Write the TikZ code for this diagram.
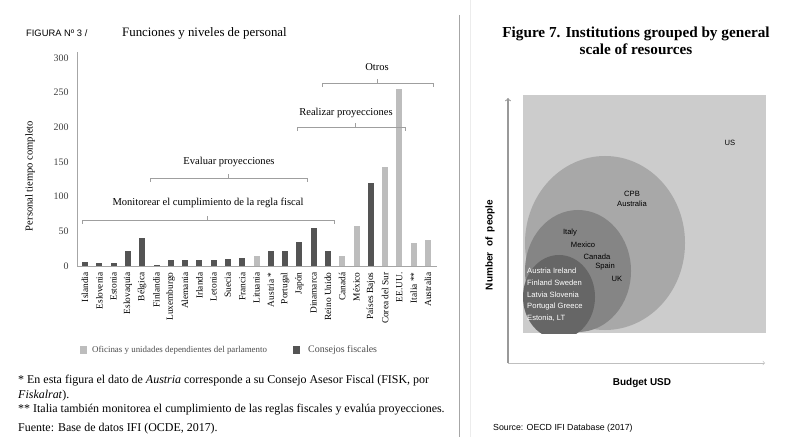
\documentclass[tikz,border=0pt]{standalone}
\usepackage{fontspec}
\setmainfont{Liberation Serif}
\setsansfont{Liberation Sans}
\usetikzlibrary{positioning}

\definecolor{barDark}{gray}{0.33}
\definecolor{barLight}{gray}{0.74}
\definecolor{boxFill}{gray}{0.80}
\definecolor{ringOne}{gray}{0.66}
\definecolor{ringTwo}{gray}{0.52}
\definecolor{ringThree}{gray}{0.40}

\tikzset{
  axisline/.style={gray!70, line width=0.8pt},
  darkbar/.style={fill=barDark},
  lightbar/.style={fill=barLight},
  ticklabel/.style={anchor=east, font=\fontsize{8.5}{9}\selectfont, text=black!75, inner sep=1pt},
  country/.style={rotate=90, anchor=east, font=\fontsize{8}{9}\selectfont, inner sep=1pt},
  brace/.style={gray!75, line width=0.6pt},
  bracelabel/.style={font=\fontsize{9}{10}\selectfont, inner sep=1pt},
  legendtext/.style={anchor=west, font=\fontsize{7.6}{9}\selectfont, text=black!70, inner sep=0pt},
  footnote/.style={anchor=west, font=\fontsize{10.2}{11}\selectfont, inner sep=0pt},
  circlabel/.style={font=\sffamily\fontsize{6.5}{7}\selectfont, inner sep=0pt},
}

\begin{document}
\begin{tikzpicture}[x=0.3mm, y=0.3mm]
  \useasboundingbox (0,0) rectangle (785,437);

  % left figure: headings
  \node[anchor=west, font=\sffamily\fontsize{8}{9}\selectfont] (figlabel) at (22,404) {FIGURA Nº 3 /};
  \node[anchor=west, font=\fontsize{11}{12}\selectfont] (charttitle) at (118,404) {Funciones y niveles de personal};
  \node[rotate=90, font=\fontsize{9}{10}\selectfont] (ytitle) at (30,261) {Personal tiempo completo};

  % axes
  \coordinate (yorigin) at (77,171);
  \coordinate (ytop) at (77,385);
  \coordinate (xright) at (437,171);
  \draw[axisline] (ytop) -- (yorigin) -- (xright);

  \begin{scope}[yshift=51.3mm, y=0.208mm]
    \node[ticklabel] (t0)   at (70,0)   {0};
    \node[ticklabel] (t50)  at (70,50)  {50};
    \node[ticklabel] (t100) at (70,100) {100};
    \node[ticklabel] (t150) at (70,150) {150};
    \node[ticklabel] (t200) at (70,200) {200};
    \node[ticklabel] (t250) at (70,250) {250};
    \node[ticklabel] (t300) at (70,300) {300};

    % bars
    \fill[darkbar]  (82,0)    rectangle +(6,6);
    \fill[darkbar]  (96.3,0)  rectangle +(6,5);
    \fill[darkbar]  (110.6,0) rectangle +(6,5);
    \fill[darkbar]  (124.9,0) rectangle +(6,21);
    \fill[darkbar]  (139.2,0) rectangle +(6,41);
    \fill[darkbar]  (153.5,0) rectangle +(6,2);
    \fill[darkbar]  (167.7,0) rectangle +(6,8);
    \fill[darkbar]  (182,0)   rectangle +(6,8);
    \fill[darkbar]  (196.3,0) rectangle +(6,8);
    \fill[darkbar]  (210.6,0) rectangle +(6,8);
    \fill[darkbar]  (224.9,0) rectangle +(6,10);
    \fill[darkbar]  (239.2,0) rectangle +(6,12);
    \fill[lightbar] (253.5,0) rectangle +(6,15);
    \fill[darkbar]  (267.8,0) rectangle +(6,21);
    \fill[darkbar]  (282.1,0) rectangle +(6,21);
    \fill[darkbar]  (296.4,0) rectangle +(6,35);
    \fill[darkbar]  (310.6,0) rectangle +(6,55);
    \fill[darkbar]  (324.9,0) rectangle +(6,21);
    \fill[lightbar] (339.2,0) rectangle +(6,15);
    \fill[lightbar] (353.5,0) rectangle +(6,58);
    \fill[darkbar]  (367.8,0) rectangle +(6,120);
    \fill[lightbar] (382.1,0) rectangle +(6,143);
    \fill[lightbar] (396.4,0) rectangle +(6,256);
    \fill[lightbar] (410.7,0) rectangle +(6,33);
    \fill[lightbar] (425,0)   rectangle +(6,38);
  \end{scope}

  % country names
  \node[country] (isl) at (85,166)    {Islandia};
  \node[country] (esl) at (99.3,166)  {Eslovenia};
  \node[country] (est) at (113.6,166) {Estonia};
  \node[country] (svk) at (127.9,166) {Eslovaquia};
  \node[country] (bel) at (142.2,166) {Bélgica};
  \node[country] (fin) at (156.5,166) {Finlandia};
  \node[country] (lux) at (170.7,166) {Luxemburgo};
  \node[country] (ale) at (185,166)   {Alemania};
  \node[country] (irl) at (199.3,166) {Irlanda};
  \node[country] (let) at (213.6,166) {Letonia};
  \node[country] (sue) at (227.9,166) {Suecia};
  \node[country] (fra) at (242.2,166) {Francia};
  \node[country] (lit) at (256.5,166) {Lituania};
  \node[country] (aut) at (270.8,166) {Austria *};
  \node[country] (por) at (285.1,166) {Portugal};
  \node[country] (jap) at (299.4,166) {Japón};
  \node[country] (din) at (313.6,166) {Dinamarca};
  \node[country] (ruk) at (327.9,166) {Reino Unido};
  \node[country] (can) at (342.2,166) {Canadá};
  \node[country] (mex) at (356.5,166) {México};
  \node[country] (pba) at (370.8,166) {Países Bajos};
  \node[country] (cor) at (385.1,166) {Corea del Sur};
  \node[country] (usa) at (399.4,166) {EE.UU.};
  \node[country] (ita) at (413.7,166) {Italia **};
  \node[country] (aus) at (428,166)   {Australia};

  % function brackets
  \draw[brace] (322,350) -- (322,354) -- (433,354) -- (433,350);
  \draw[brace] (377,354) -- (377,358);
  \node[bracelabel] (otros) at (377,370) {Otros};

  \draw[brace] (297,306) -- (297,310) -- (405,310) -- (405,306);
  \draw[brace] (355,310) -- (355,314);
  \node[bracelabel] (realizar) at (346,324) {Realizar proyecciones};

  \draw[brace] (150,255) -- (150,259) -- (307,259) -- (307,255);
  \draw[brace] (228,259) -- (228,263);
  \node[bracelabel] (evaluar) at (229,275) {Evaluar proyecciones};

  \draw[brace] (82,213) -- (82,217) -- (334,217) -- (334,213);
  \draw[brace] (207,217) -- (207,221);
  \node[bracelabel] (monitorear) at (208,234) {Monitorear el cumplimiento de la regla fiscal};

  % legend
  \fill[barLight] (80,83) rectangle (87,91);
  \node[legendtext] (leglight) at (92,87) {Oficinas y unidades dependientes del parlamento};
  \fill[barDark] (293,83) rectangle (300,91);
  \node[legendtext, font=\fontsize{8.5}{9}\selectfont] (legdark) at (308,87) {Consejos fiscales};

  % notes
  \node[footnote] (fn1) at (18,56) {* En esta figura el dato de \emph{Austria} corresponde a su Consejo Asesor Fiscal (FISK, por};
  \node[footnote] (fn2) at (18,41) {\emph{Fiskalrat}).};
  \node[footnote] (fn3) at (18,27) {** Italia también monitorea el cumplimiento de las reglas fiscales y evalúa proyecciones.};
  \node[footnote] (fn4) at (18,8) {Fuente: Base de datos IFI (OCDE, 2017).};

  % divider
  \draw[gray!70, line width=0.7pt] (459,422) -- (459,0);
  \draw[gray!15, line width=0.7pt] (470,437) -- (470,0);

  % right figure
  \node[font=\bfseries\fontsize{13}{14}\selectfont, align=center] (fig7title) at (636,396)
    {Figure 7. Institutions grouped by general\\scale of resources};

  \fill[boxFill] (523,104) rectangle (766,342);
  \begin{scope}
    \clip (523,104) rectangle (766,342);
    \fill[ringOne]   (605,194) ellipse [x radius=80, y radius=87];
    \fill[ringTwo]   (578,166) ellipse [x radius=53, y radius=61];
    \fill[ringThree] (559,140) ellipse [x radius=36, y radius=42];
  \end{scope}

  \node[circlabel] (lblus) at (730,294) {US};
  \node[circlabel, align=center] (lblbig) at (632,238) {CPB\\[1pt]Australia};
  \node[circlabel] (lblita) at (570,204) {Italy};
  \node[circlabel] (lblmex) at (583,192) {Mexico};
  \node[circlabel] (lblcan) at (597,180) {Canada};
  \node[circlabel] (lblspa) at (605,170) {Spain};
  \node[circlabel] (lbluk)  at (617,158) {UK};
  \node[circlabel, text=white, align=left, anchor=north west,
        font=\sffamily\fontsize{6.5}{10}\selectfont] (lblsmall) at (527,169)
    {Austria Ireland\\Finland Sweden\\Latvia Slovenia\\Portugal Greece\\Estonia, LT};

  \coordinate (origin) at (508,74);
  \coordinate (yend) at (508,339);
  \coordinate (xend) at (765,74);
  \draw[gray!80, line width=0.9pt, ->] (origin) -- (yend);
  \draw[gray!50, line width=0.5pt, ->] (origin) -- (xend);

  \node[rotate=90, font=\sffamily\bfseries\fontsize{8.5}{9}\selectfont] (ylab) at (490,192) {Number\ \ of\ \ people};
  \node[font=\sffamily\bfseries\fontsize{8.5}{9}\selectfont] (xlab) at (642,54) {Budget USD};
  \node[anchor=west, font=\sffamily\fontsize{7.5}{8}\selectfont] (source) at (489,9) {Source: OECD IFI Database (2017)};
\end{tikzpicture}
\end{document}
